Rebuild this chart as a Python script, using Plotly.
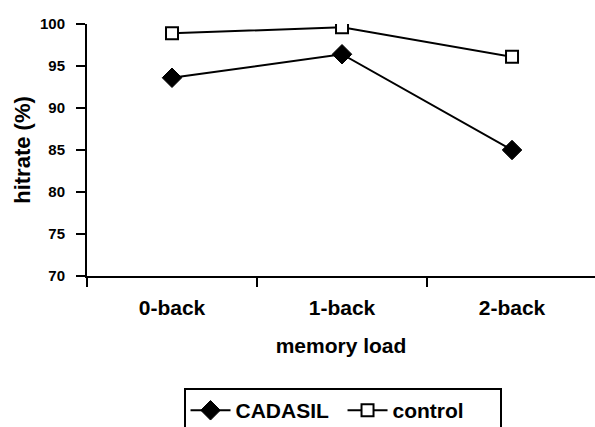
import plotly.graph_objects as go

categories = ["0-back", "1-back", "2-back"]
cadasil = [93.6, 96.4, 85.0]
control = [98.9, 99.6, 96.1]
y_ticks = [70, 75, 80, 85, 90, 95, 100]

FONT = "Arial, Liberation Sans, sans-serif"

fig = go.Figure()
fig.add_trace(go.Scatter(
    x=categories, y=cadasil, name="CADASIL", mode="lines+markers",
    line=dict(color="black", width=2),
    marker=dict(symbol="diamond", size=15, color="black", line=dict(color="black", width=1)),
))
fig.add_trace(go.Scatter(
    x=categories, y=control, name="control", mode="lines+markers",
    line=dict(color="black", width=2),
    marker=dict(symbol="square", size=12, color="white", line=dict(color="black", width=2)),
))

fig.update_layout(
    width=595, height=427,
    margin=dict(l=87, r=0, t=24, b=151, autoexpand=False),
    paper_bgcolor="white", plot_bgcolor="white",
    font=dict(family=FONT, color="black", weight="bold"),
    showlegend=True,
    legend=dict(
        orientation="h", x=0.503, xanchor="center", y=-0.445, yanchor="top",
        bordercolor="black", borderwidth=2, bgcolor="white",
        font=dict(size=21, family=FONT, weight="bold"),
        itemwidth=40, entrywidth=102, entrywidthmode="pixels", tracegroupgap=0,
    ),
)
fig.update_xaxes(
    type="category", range=[-0.5, 2.488], tickson="boundaries",
    showline=True, linecolor="black", linewidth=2,
    ticks="outside", ticklen=9, tickwidth=2, tickcolor="black",
    tickfont=dict(size=21, family=FONT, weight="bold"),
    ticklabelstandoff=12, automargin=False,
    showgrid=False, zeroline=False,
    title=dict(text="memory load", font=dict(size=21, family=FONT, weight="bold"), standoff=20),
)
fig.update_yaxes(
    range=[70, 100], tickvals=y_ticks,
    showline=True, linecolor="black", linewidth=2,
    ticks="outside", ticklen=9, tickwidth=2, tickcolor="black",
    tickfont=dict(size=15, family=FONT, weight="bold"),
    ticklabelstandoff=8, automargin=False,
    showgrid=False, zeroline=False,
    title=dict(text="hitrate (%)", font=dict(size=22, family=FONT, weight="bold"), standoff=3),
)

fig.write_html("out.html")
